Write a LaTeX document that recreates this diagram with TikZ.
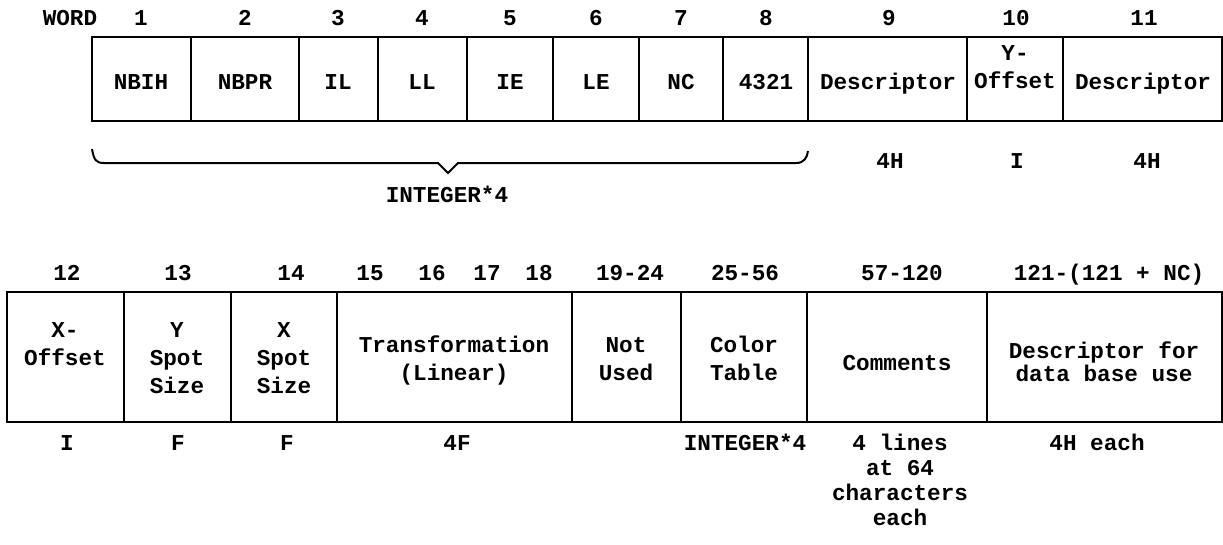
\documentclass[tikz,border=0pt]{standalone}
\usepackage{fontspec}
\setmainfont{Liberation Mono}
\usetikzlibrary{fit}
\newcommand\lblfont{\fontsize{17}{21}\selectfont\bfseries}
\newcommand\undfont{\fontsize{17}{18.75}\selectfont\bfseries}
\newcommand\tightfont{\fontsize{17}{13.5}\selectfont\bfseries}
\begin{document}
\begin{tikzpicture}[x=0.75pt,y=-0.75pt,
  fld/.style={draw,line width=1.5pt,inner sep=0pt},
  lbl/.style={font=\lblfont,align=center,inner sep=0pt,anchor=base},
  und/.style={font=\undfont,align=center,inner sep=0pt,anchor=base}]
\useasboundingbox (0,0) rectangle (1223,544);
% ---- row 1 ----
\node[lbl] (word) at (70,25) {WORD};
\foreach \n/\a/\b in {f1/92/191, f2/191/299, f3/299/378, f4/378/467,
  f5/467/553, f6/553/639, f7/639/723, f8/723/808,
  f9/808/967, f10/967/1063, f11/1063/1222}
  \node[fld, fit={(\a,37) (\b,121)}] (\n) {};
\foreach \n/\x/\t in {1/141/NBIH, 2/245/NBPR, 3/338/IL, 4/422/LL, 5/510/IE, 6/596/LE,
  7/681/NC, 8/766/4321, 9/888/Descriptor, 11/1143/Descriptor}
  \node[lbl] (x\n) at (\x,89) {\t};
\node[lbl] (x10) at (1015,88) {Y-\\Offset};
\foreach \n/\x/\t in {1/141/1, 2/245/2, 3/338/3, 4/422/4, 5/510/5, 6/596/6, 7/681/7, 8/766/8,
  9/889/9, 10/1016/10, 11/1144/11}
  \node[lbl] (w\n) at (\x,25) {\t};
% brace
\draw[line width=1.5pt] (92,149) .. controls (94,160) and (96,163) .. (104,163) -- (438,163)
  -- (448,173) -- (458,163) -- (796,163) .. controls (804,163) and (807,158) .. (808,151);
\node[und] (int1) at (447,202) {INTEGER*4};
\node[und] (t9) at (890,168) {4H};
\node[und] (t10) at (1017,168) {I};
\node[und] (t11) at (1147,168) {4H};
% ---- row 2 ----
\foreach \n/\a/\b in {g12/7/124, g13/124/231, g14/231/337,
  g15/337/572, g19/572/681, g25/681/807, g57/807/987, g121/987/1222}
  \node[fld, fit={(\a,292) (\b,422)}] (\n) {};
\node[lbl] (y12) at (65,365) {X-\\Offset};
\node[lbl] (y13) at (177,393) {Y\\Spot\\Size};
\node[lbl] (y14) at (284,393) {X\\Spot\\Size};
\node[lbl] (y15) at (454,380) {Transformation\\(Linear)};
\node[lbl] (y19) at (626,380) {Not\\Used};
\node[lbl] (y25) at (744,380) {Color\\Table};
\node[lbl] (y57) at (897,370) {Comments};
\node[lbl, font=\tightfont] (y121) at (1104,381) {Descriptor for\\data base use};
\foreach \n/\x/\t in {12/67/12, 13/178/13, 14/291/14, 15/370/15, 16/432/16, 17/487/17, 18/539/18,
  19/630/19-24, 25/745/25-56, 57/902/57-120, 121/1109/{121-(121 + NC)}}
  \node[lbl] (h\n) at (\x,280) {\t};
\node[und] (b12) at (67,450) {I};
\node[und] (b13) at (178,450) {F};
\node[und] (b14) at (287,450) {F};
\node[und] (b15) at (457,450) {4F};
\node[und] (b25) at (745,450) {INTEGER*4};
\node[und] (b57) at (900,525) {4 lines\\at 64\\characters\\each};
\node[und] (b121) at (1097,450) {4H each};
\end{tikzpicture}
\end{document}
